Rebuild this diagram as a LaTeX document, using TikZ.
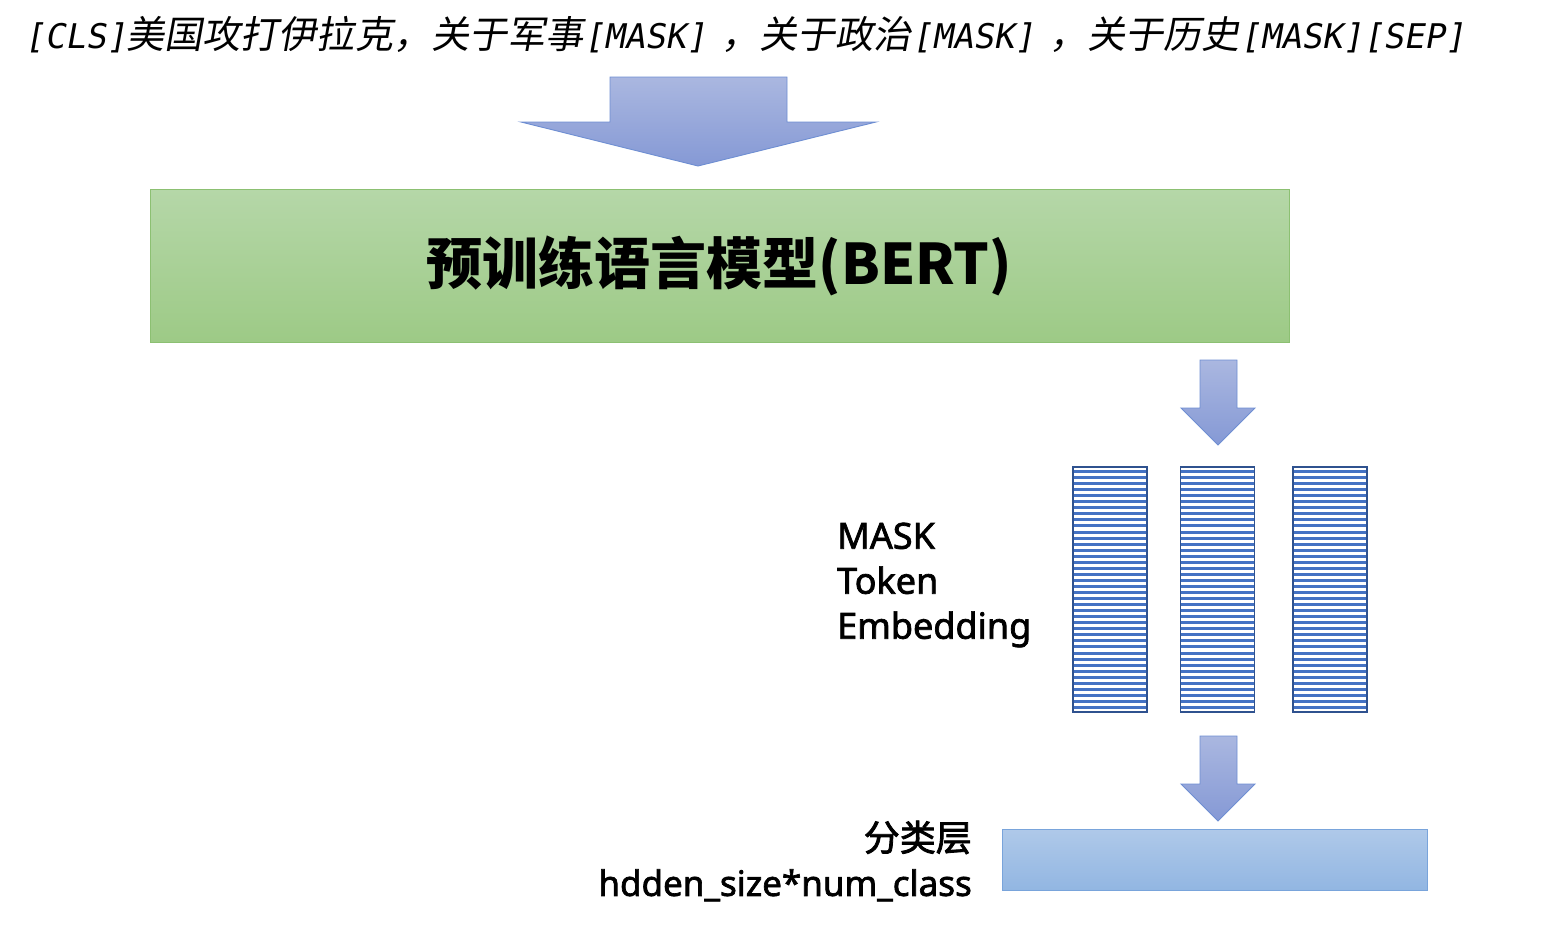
\documentclass[tikz,border=0pt]{standalone}
\usepackage{fontspec}
\usetikzlibrary{positioning}
\newfontfamily\cjk{Noto Sans CJK SC}
\newfontfamily\cjkmed{Noto Sans CJK SC}[FakeBold=2.2]
\newfontfamily\cjksl{Noto Sans CJK SC}[FakeSlant=0.18,Scale=1.12]
\newfontfamily\monosl{DejaVu Sans Mono}[FakeSlant=0.18]
\newfontfamily\lat{Noto Sans}[FakeBold=2]
\newcommand{\mk}[1]{{\monosl #1}}

\begin{document}
\begin{tikzpicture}[x=1pt,y=-1pt]

% colors
\definecolor{cArrTop}{HTML}{AAB7E0}
\definecolor{cArrBot}{HTML}{8599D5}
\definecolor{cArrLine}{HTML}{6E8ED2}
\definecolor{cBertTop}{HTML}{B5D7A8}
\definecolor{cBertBot}{HTML}{9DCA86}
\definecolor{cBertLine}{HTML}{8CC072}
\definecolor{cClsTop}{HTML}{AFC9E9}
\definecolor{cClsBot}{HTML}{92B6E2}
\definecolor{cClsLine}{HTML}{79A4DB}
\definecolor{cStripe}{HTML}{4472C4}
\definecolor{cEmbLine}{HTML}{2F528F}

\tikzset{
  blockarrow/.style={draw=cArrLine, line width=0.9pt, top color=cArrTop, bottom color=cArrBot},
  embcol/.style={draw=cEmbLine, line width=1.6pt, minimum width=74pt, minimum height=245pt,
    inner sep=0pt, outer sep=0pt},
  label/.style={inner sep=0pt, font=\lat\fontsize{36}{45}\selectfont}
}

\useasboundingbox (0,0) rectangle (1552,927);

% input sentence
\node[anchor=base west, inner sep=0pt, font=\cjksl\fontsize{34}{40}\selectfont] (input) at (24,48)
  {\mk{[CLS]}美国攻打伊拉克，关于军事\mk{[MASK]}\hspace{15pt}，关于政治\mk{[MASK]}\hspace{15pt}，关于历史\mk{[MASK][SEP]}};

% big arrow into the model
\draw[blockarrow] (610,77) -- (787,77) -- (787,122) -- (876,122) -- (698,166)
  -- (521,122) -- (610,122) -- cycle;

% pretrained model
\node[draw=cBertLine, line width=0.9pt, top color=cBertTop, bottom color=cBertBot,
  minimum width=1139pt, minimum height=153pt, inner sep=0pt,
  font=\cjk\bfseries\fontsize{56}{60}\selectfont] (bert) at (719.5,265.5)
  {\raisebox{-3pt}{预训练语言模型(BERT)}};

% arrow to the embeddings
\draw[blockarrow] (1200,360) -- (1237,360) -- (1237,408) -- (1255,408) -- (1218,445)
  -- (1181,408) -- (1200,408) -- cycle;

% MASK token embeddings, striped columns
\foreach \cx in {1073,1181,1293} {
  \foreach \k in {0,...,39}
    \fill[cStripe] (\cx,470+\k*6.05) rectangle ++(74,3);
}
\node[embcol] (emb1) at (1110,589.5) {};
\node[embcol] (emb2) at (1217.5,589.5) {};
\node[embcol] (emb3) at (1330,589.5) {};

\node[label, align=left, anchor=west] (embtxt) at (837,585) {MASK\\Token\\Embedding};

% arrow to the classifier
\draw[blockarrow] (1200,736) -- (1237,736) -- (1237,784) -- (1255,784) -- (1218,821)
  -- (1181,784) -- (1200,784) -- cycle;

% classification layer
\node[draw=cClsLine, line width=0.9pt, top color=cClsTop, bottom color=cClsBot,
  minimum width=425pt, minimum height=61pt, inner sep=0pt] (cls) at (1214.5,859.5) {};
\node[label, align=right, anchor=east] (clstxt) at (972,861)
  {{\cjkmed 分类层}\\\fontsize{35}{45}\selectfont hdden\_size*num\_class};

\end{tikzpicture}
\end{document}
